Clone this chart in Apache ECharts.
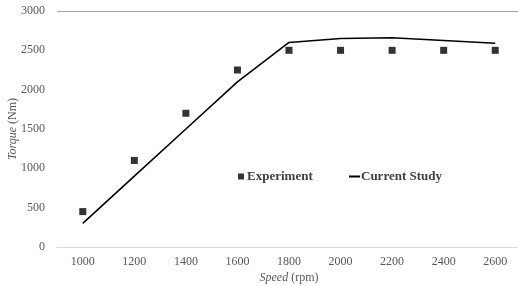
<!DOCTYPE html>
<html>
<head>
<meta charset="utf-8">
<script src="https://cdn.jsdelivr.net/npm/echarts@6/dist/echarts.min.js"></script>
<style>
  html, body { margin: 0; padding: 0; background: #fff; }
  #chart { width: 518px; height: 286px; }
</style>
</head>
<body>
<div id="chart"></div>
<script>
const speeds = ["1000", "1200", "1400", "1600", "1800", "2000", "2200", "2400", "2600"];
const experiment = [450, 1100, 1700, 2250, 2500, 2500, 2500, 2500, 2500];
const currentStudy = [300, 900, 1500, 2100, 2600, 2650, 2660, 2625, 2590];

const serif = "Liberation Serif";
const chart = echarts.init(document.getElementById("chart"));

chart.setOption({
  animation: false,
  grid: { left: 57, right: -3, top: 11, bottom: 39, outerBoundsMode: "none", containLabel: false },
  legend: [
    {
      left: 233, top: 165,
      data: [{ name: "Experiment", icon: "rect" }],
      itemWidth: 6, itemHeight: 6,
      textStyle: { fontFamily: serif, fontWeight: "bold", fontSize: 13, color: "#404040", padding: [0, 0, 0, -2] }
    },
    {
      left: 344, top: 165,
      data: [{ name: "Current Study", icon: "rect" }],
      itemWidth: 11, itemHeight: 2,
      textStyle: { fontFamily: serif, fontWeight: "bold", fontSize: 13, color: "#404040", padding: [0, 0, 0, -4] }
    }
  ],
  xAxis: {
    type: "category",
    data: speeds,
    boundaryGap: true,
    axisTick: { show: false },
    axisLine: { lineStyle: { color: "#d9d9d9", width: 1 } },
    axisLabel: { fontFamily: serif, fontSize: 12, color: "#595959", margin: 9 },
    name: "{i|Speed} (rpm)",
    nameLocation: "middle",
    nameGap: 25,
    nameMoveOverlap: false,
    nameTextStyle: {
      fontFamily: serif, fontSize: 12, color: "#595959",
      rich: { i: { fontFamily: serif, fontSize: 12, fontStyle: "italic", color: "#595959" } }
    }
  },
  yAxis: {
    type: "value",
    min: 0, max: 3000, interval: 500,
    axisLine: { show: false },
    axisTick: { show: false },
    splitLine: {
      show: true,
      lineStyle: { color: ["transparent", "transparent", "transparent", "transparent", "transparent", "transparent", "#a6a6a6"], width: 1 }
    },
    axisLabel: { fontFamily: serif, fontSize: 12, color: "#595959", margin: 12, formatter: (v) => String(v) },
    name: "{i|Torque} (Nm)",
    nameLocation: "middle",
    nameGap: 38,
    nameMoveOverlap: false,
    nameTextStyle: {
      fontFamily: serif, fontSize: 12, color: "#595959",
      rich: { i: { fontFamily: serif, fontSize: 12, fontStyle: "italic", color: "#595959" } }
    }
  },
  series: [
    {
      name: "Experiment",
      type: "scatter",
      data: experiment,
      symbol: "rect",
      symbolSize: 7,
      itemStyle: { color: "#000" }
    },
    {
      name: "Current Study",
      type: "line",
      data: currentStudy,
      showSymbol: false,
      symbol: "none",
      lineStyle: { color: "#000", width: 1.6 },
      itemStyle: { color: "#000" }
    }
  ]
});
</script>
</body>
</html>
